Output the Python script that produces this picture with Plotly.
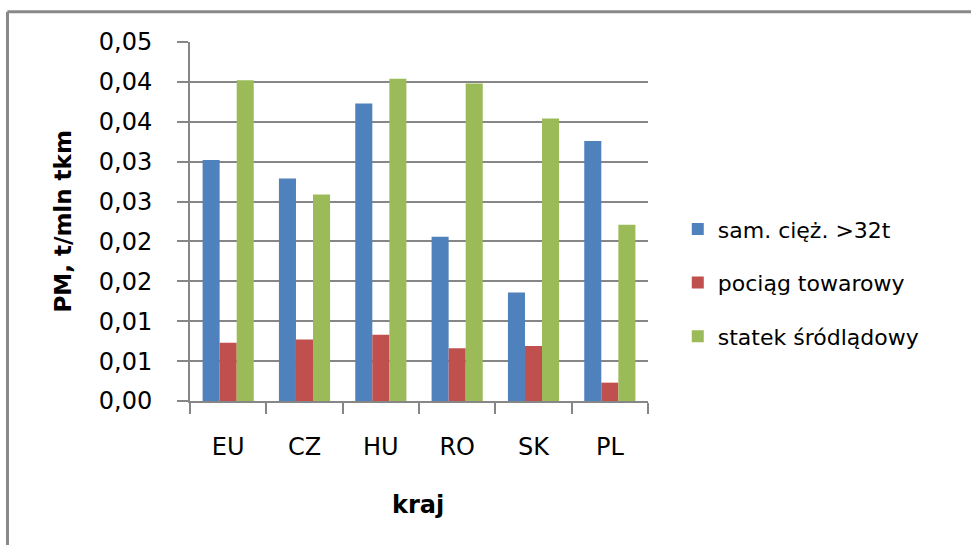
import plotly.graph_objects as go

# Emisja pyłu PM na jednostkę pracy przewozowej, wg kraju i środka transportu
kraje = ["EU", "CZ", "HU", "RO", "SK", "PL"]
samochod = [0.0302, 0.0279, 0.0373, 0.0206, 0.0136, 0.0326]
pociag = [0.0073, 0.0077, 0.0083, 0.0066, 0.0069, 0.0023]
statek = [0.0402, 0.0259, 0.0404, 0.0398, 0.0354, 0.0221]

serie = ["sam. cięż. >32t", "pociąg towarowy", "statek śródlądowy"]
kolory = ["#4F81BD", "#C0504D", "#9BBB59"]

y_ticks = [0, 0.005, 0.01, 0.015, 0.02, 0.025, 0.03, 0.035, 0.04, 0.045]
y_labels = ["0,00", "0,01", "0,01", "0,02", "0,02", "0,03", "0,03", "0,04", "0,04", "0,05"]

FONT = "DejaVu Sans"
GRAY = "#868686"

fig = go.Figure()
for nazwa, wartosci, kolor in zip(serie, [samochod, pociag, statek], kolory):
    fig.add_trace(go.Bar(
        x=kraje, y=wartosci, name=nazwa, legendgroup=nazwa,
        marker=dict(color=kolor, line=dict(width=0)),
    ))

fig.update_layout(
    width=971, height=545,
    margin=dict(l=190, r=323, t=42, b=144),
    paper_bgcolor="white", plot_bgcolor="white",
    barmode="group", bargap=0.33, bargroupgap=0,
    font=dict(family=FONT, color="black"),
    showlegend=True,
    legend=dict(
        x=1.065, xanchor="left", y=0.537, yanchor="top",
        font=dict(family=FONT, size=22, color="black"),
        tracegroupgap=22, bgcolor="rgba(0,0,0,0)",
    ),
    xaxis=dict(
        type="category", tickson="boundaries",
        ticks="outside", ticklen=11, tickwidth=1.5, tickcolor=GRAY,
        showline=True, linecolor=GRAY, linewidth=1.5,
        showgrid=False, ticklabelstandoff=23,
        tickfont=dict(family=FONT, size=24, color="black"),
    ),
    yaxis=dict(
        range=[0, 0.045], tickvals=y_ticks, ticktext=y_labels,
        ticks="outside", ticklen=11, tickwidth=1.5, tickcolor=GRAY,
        showline=True, linecolor=GRAY, linewidth=2,
        showgrid=True, gridcolor=GRAY, gridwidth=1.5, zeroline=False,
        ticklabelstandoff=20,
        tickfont=dict(family=FONT, size=24, color="black"),
    ),
)

# Tytuły osi
fig.add_annotation(
    text="<b>PM, t/mln tkm</b>", textangle=-90, showarrow=False,
    xref="paper", yref="paper", x=-0.2773, y=0.5,
    xanchor="center", yanchor="middle",
    font=dict(family=FONT, size=23, color="black"),
)
fig.add_annotation(
    text="<b>kraj</b>", showarrow=False,
    xref="paper", yref="paper", x=0.498, y=-0.289,
    xanchor="center", yanchor="middle",
    font=dict(family=FONT, size=24, color="black"),
)

# Ramka obszaru wykresu (lewa i górna krawędź)
fig.add_shape(type="line", xref="paper", yref="paper",
              x0=-0.3985, x1=1.8, y0=1.0844, y1=1.0844,
              line=dict(color="#898989", width=3))
fig.add_shape(type="line", xref="paper", yref="paper",
              x0=-0.3985, x1=-0.3985, y0=1.0844, y1=-0.5,
              line=dict(color="#898989", width=3))

fig.write_html("out.html")
